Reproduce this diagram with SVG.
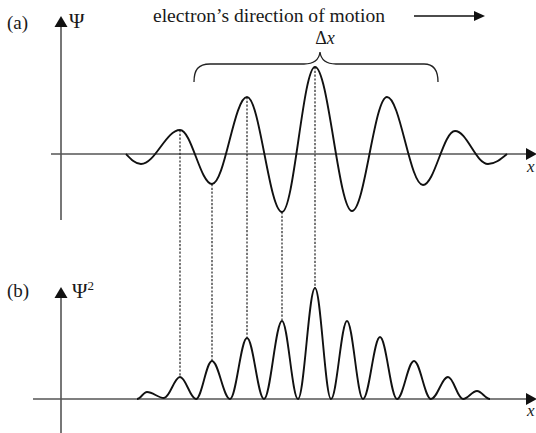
<svg xmlns="http://www.w3.org/2000/svg" width="536" height="433" viewBox="0 0 536 433">
<style>
.axis{stroke:#555;stroke-width:1.6;fill:none}
.ah{fill:#111}
.wave{stroke:#111;stroke-width:1.9;fill:none;stroke-linejoin:round}
.dash{stroke:#222;stroke-width:1.2;stroke-dasharray:2.2 1.6;fill:none}
.brace{stroke:#222;stroke-width:1.3;fill:none}
.t{font-family:'Liberation Serif','Times New Roman',serif;fill:#1a1a1a}
.it{font-style:italic}
</style>
<rect width="536" height="433" fill="#fff"/>
<g id="panel-a-axes">
<line class="axis" x1="61" y1="26" x2="61" y2="220"/>
<polygon class="ah" points="61,16 54.5,27 67.5,27"/>
<line class="axis" x1="51" y1="154" x2="528" y2="154"/>
<polygon class="ah" points="537,154 526,148 526,160"/>
<text class="t" font-family="Liberation Serif, serif" x="7" y="29" font-size="19">(a)</text>
<text class="t" font-family="Liberation Serif, serif" x="69" y="28" font-size="21">Ψ</text>
<text class="t it" font-family="Liberation Serif, serif" x="527" y="172" font-size="17">x</text>
</g>
<g id="panel-b-axes">
<line class="axis" x1="61" y1="297" x2="61" y2="433"/>
<polygon class="ah" points="61,287 54.5,298 67.5,298"/>
<line class="axis" x1="33" y1="399" x2="528" y2="399"/>
<polygon class="ah" points="537,399 526,393 526,405"/>
<text class="t" font-family="Liberation Serif, serif" x="7" y="297" font-size="19">(b)</text>
<text class="t" font-family="Liberation Serif, serif" x="72" y="298" font-size="21">Ψ<tspan font-size="13" dy="-8">2</tspan></text>
<text class="t it" font-family="Liberation Serif, serif" x="527" y="416" font-size="17">x</text>
</g>
<g id="title">
<text class="t" font-family="Liberation Serif, serif" x="153" y="22" font-size="18" textLength="232" lengthAdjust="spacingAndGlyphs">electron’s direction of motion</text>
<line x1="414" y1="16" x2="476" y2="16" stroke="#111" stroke-width="1.5"/>
<polygon class="ah" points="485,16 474,11 474,21"/>
</g>
<g id="brace">
<path class="brace" d="M194,82 C194,70 198,64 210,64 L304,64 C314,64 319,60 320,52 C321,60 326,64 336,64 L424,64 C434,64 438,70 438,82"/>
<text class="t" font-family="Liberation Serif, serif" x="325" y="44" font-size="18" text-anchor="middle">Δ<tspan class="it">x</tspan></text>
</g>
<g id="connectors">
<line class="dash" x1="180" y1="130" x2="180" y2="377"/>
<line class="dash" x1="212" y1="184" x2="212" y2="361"/>
<line class="dash" x1="247" y1="97" x2="247" y2="338"/>
<line class="dash" x1="282" y1="212" x2="282" y2="321"/>
<line class="dash" x1="315" y1="67" x2="315" y2="288"/>
</g>
<g id="psi-wave">
<path class="wave" d="M126,154 C131,159.25 135.5,164 141,164 C155.2,164 165.8,130 180,130 C191.6,130 200.4,184 212,184 C224.7,184 234.3,97 247,97 C259.7,97 269.3,212 282,212 C294,212 303,67 315,67 C328.4,67 338.6,211 352,211 C364.7,211 374.3,97 387,97 C400.1,97 409.9,185 423,185 C434.6,185 443.4,131 455,131 C467,131 476,164 488,164 C494.9,164 500.7,159.25 507,154"/>
</g>
<g id="psi2-wave">
<path class="wave" d="M137,399 C140.6,399 143.4,392 147,392 C153.2,392 157.8,398 164,398 C169.8,398 174.2,377 180,377 C185.8,377 190.2,399 196,399 C201.8,399 206.2,361 212,361 C218.5,361 223.5,399 230,399 C236.2,399 240.8,338 247,338 C253.2,338 257.8,399 264,399 C270.5,399 275.5,321 282,321 C287.8,321 292.2,399 298,399 C304.2,399 308.8,288 315,288 C320.8,288 325.2,399 331,399 C336.8,399 341.2,321 347,321 C352.8,321 357.2,399 363,399 C369.2,399 373.8,337 380,337 C386.2,337 390.8,399 397,399 C403.2,399 407.8,361 414,361 C420.2,361 424.8,399 431,399 C437.2,399 441.8,377 448,377 C453.5,377 457.5,399 463,399 C468.1,399 471.9,391 477,391 C481.7,391 485.3,399 490,399"/>
</g>
</svg>
